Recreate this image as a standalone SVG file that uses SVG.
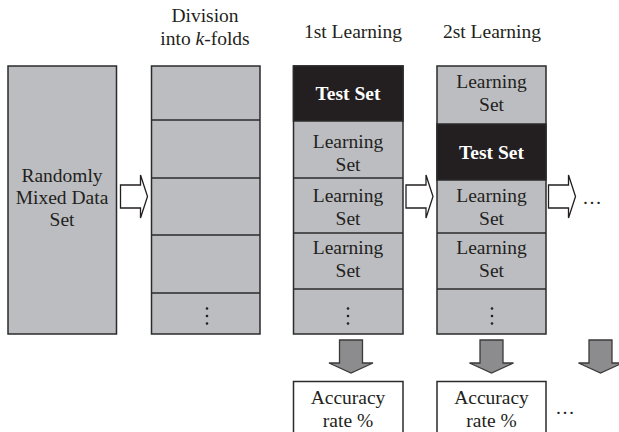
<svg xmlns="http://www.w3.org/2000/svg" width="619" height="432" viewBox="0 0 619 432">
<style>
text{font-family:"Liberation Serif","Times New Roman",serif;font-size:19.5px;fill:#231f20;text-anchor:middle}
.t{font-weight:bold;fill:#fff}
.g{fill:#bcbdc1;stroke:#2b2b2b;stroke-width:1.5}
.b{fill:#231f20;stroke:#2b2b2b;stroke-width:1.5}
.w{fill:#fff;stroke:#2b2b2b;stroke-width:1.5}
.ha{fill:#fff;stroke:#231f20;stroke-width:1.3}
.da{fill:#8c8c8e;stroke:#3a3a3a;stroke-width:1.3}
.dot{fill:#231f20}
</style>
<defs>
<path id="harrow" d="M0,-11.5 H20 V-21.5 L27,0 L20,21.5 V11.5 H0 Z"/>
<path id="darrow" d="M-11.5,0 H11.5 V23 H22 L0,33 L-22,23 H-11.5 Z"/>
<g id="vdots"><circle cx="0" cy="0" r="1.3"/><circle cx="0" cy="7.5" r="1.3"/><circle cx="0" cy="15" r="1.3"/></g>
</defs>

<g id="titles">
<text x="205" y="22">Division</text>
<text x="205" y="45">into <tspan font-style="italic">k</tspan>-folds</text>
<text x="353" y="38">1st Learning</text>
<text x="492" y="38">2st Learning</text>
</g>

<g id="dataset">
<rect class="g" x="8" y="66" width="108.5" height="268"/>
<text x="62" y="182">Randomly</text>
<text x="62" y="204">Mixed Data</text>
<text x="62" y="226">Set</text>
</g>

<g id="kfolds">
<rect class="g" x="151.5" y="66" width="108.5" height="268"/>
<line class="g" x1="151.5" y1="120" x2="260" y2="120"/>
<line class="g" x1="151.5" y1="178" x2="260" y2="178"/>
<line class="g" x1="151.5" y1="235" x2="260" y2="235"/>
<line class="g" x1="151.5" y1="293" x2="260" y2="293"/>
<use href="#vdots" x="207" y="308.5" class="dot"/>
</g>

<g id="learning1">
<rect class="g" x="293.5" y="66" width="109.5" height="268"/>
<rect class="b" x="293.5" y="66" width="109.5" height="55"/>
<text class="t" x="348" y="100">Test Set</text>
<line class="g" x1="293.5" y1="178" x2="403" y2="178"/>
<line class="g" x1="293.5" y1="233" x2="403" y2="233"/>
<line class="g" x1="293.5" y1="289" x2="403" y2="289"/>
<text x="348" y="148">Learning</text>
<text x="348" y="170.5">Set</text>
<text x="348" y="202">Learning</text>
<text x="348" y="224.5">Set</text>
<text x="348" y="254">Learning</text>
<text x="348" y="277">Set</text>
<use href="#vdots" x="348" y="308.5" class="dot"/>
</g>

<g id="learning2">
<rect class="g" x="437" y="66" width="109" height="268"/>
<rect class="b" x="437" y="124" width="109" height="56"/>
<text class="t" x="491.5" y="158.5">Test Set</text>
<line class="g" x1="437" y1="233" x2="546" y2="233"/>
<line class="g" x1="437" y1="289" x2="546" y2="289"/>
<text x="491.5" y="88">Learning</text>
<text x="491.5" y="111">Set</text>
<text x="491.5" y="202">Learning</text>
<text x="491.5" y="224.5">Set</text>
<text x="491.5" y="254">Learning</text>
<text x="491.5" y="277">Set</text>
<use href="#vdots" x="492" y="308.5" class="dot"/>
</g>

<g id="acc1">
<rect class="w" x="293.5" y="381.5" width="109.5" height="60"/>
<text x="348" y="404">Accuracy</text>
<text x="348" y="427">rate %</text>
</g>

<g id="acc2">
<rect class="w" x="437" y="381.5" width="109" height="60"/>
<text x="491.5" y="404">Accuracy</text>
<text x="491.5" y="427">rate %</text>
</g>

<g id="ellipses">
<text x="592" y="204">…</text>
<text x="565" y="414">…</text>
</g>

<g id="connectors">
<use href="#harrow" class="ha" x="120.5" y="196.5"/>
<use href="#harrow" class="ha" x="406" y="196.5"/>
<use href="#harrow" class="ha" x="548.5" y="196.5"/>
<use href="#darrow" class="da" x="351" y="340"/>
<use href="#darrow" class="da" x="491.5" y="340"/>
<use href="#darrow" class="da" x="600.5" y="340"/>
</g>
</svg>
